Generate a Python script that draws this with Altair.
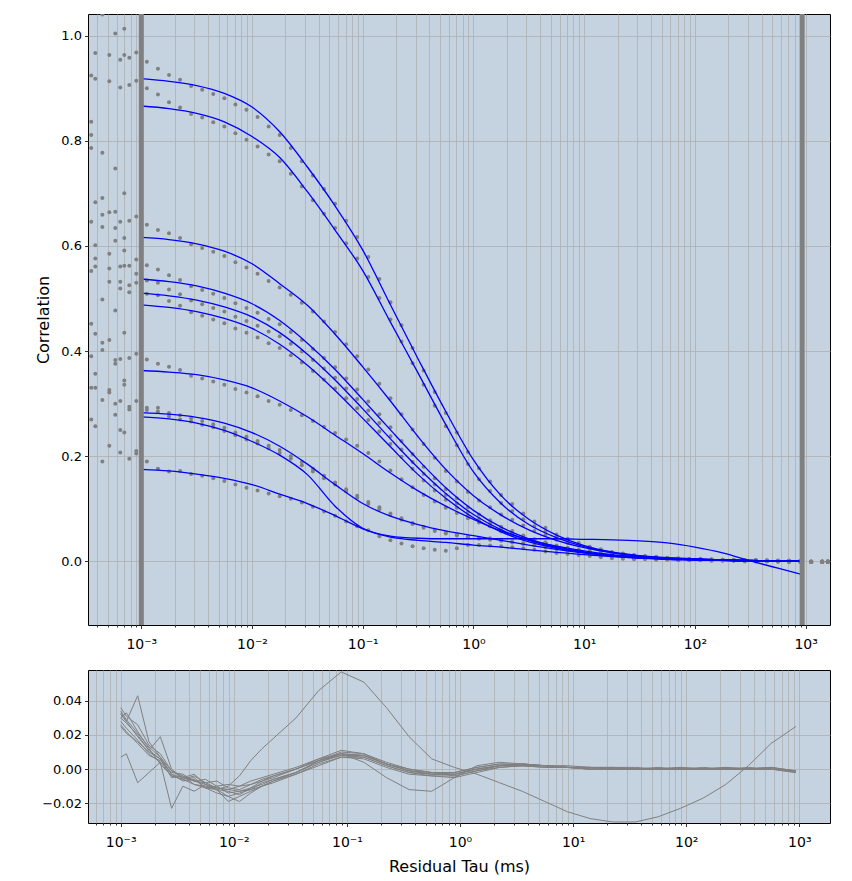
import altair as alt
import pandas as pd

# ---------------- tau values (ms) ----------------
PRE_TAU = [3.53e-4, 3.84e-4, 4.45e-4, 5.14e-4, 5.82e-4, 6.46e-4, 7.02e-4, 7.79e-4, 9.01e-4]
DOT_TAU = [0.001122, 0.001413, 0.001778, 0.002239, 0.002818, 0.003548, 0.004467, 0.005623, 0.007079, 0.008913,
           0.01122, 0.01413, 0.01778, 0.02239, 0.02818, 0.03548, 0.04467, 0.05623, 0.07079, 0.08913,
           0.1122, 0.1413, 0.1778, 0.2239, 0.2818, 0.3548, 0.4467, 0.5623, 0.7079, 0.8913,
           1.122, 1.413, 1.778, 2.239, 2.818, 3.548, 4.467, 5.623, 7.079, 8.913,
           11.22, 14.13, 17.78, 22.39, 28.18, 35.48, 44.67, 56.23, 70.79, 89.13,
           112.2, 141.3, 177.8, 223.9, 281.8, 354.8, 446.7, 562.3, 707.9, 891.3,
           1122.0, 1413.0, 1585.0]
FIT_TAU = [0.001, 0.001778, 0.003162, 0.005623, 0.01, 0.01778, 0.03162, 0.05623, 0.1, 0.1778,
           0.3162, 0.5623, 1.0, 1.778, 3.162, 5.623, 10.0, 17.78, 31.62, 56.23,
           100.0, 177.8, 316.2, 562.3, 930.0]
RES_TAU = [0.001, 0.001122, 0.001413, 0.001778, 0.002239, 0.002818, 0.003548, 0.004467, 0.005623, 0.007079,
           0.008913, 0.01122, 0.01413, 0.01778, 0.02239, 0.03548, 0.05623, 0.08913, 0.1413, 0.2239,
           0.3548, 0.5623, 0.8913, 1.413, 2.239, 3.548, 5.623, 8.913, 14.13, 22.39,
           35.48, 56.23, 89.13, 141.3, 223.9, 354.8, 562.3, 933.0]
FIT_RANGE = [0.001, 930.0]

# ---------------- noisy early points (before fit range) ----------------
PRE_1 = [0.924, 0.967, 1.040, 0.963, 1.004, 0.954, 1.013, 0.958, 0.968]
PRE_2 = [0.836, 0.918, 0.777, 0.913, 0.747, 0.901, 0.963, 0.906, 0.914]
PRE_3 = [0.811, 0.683, 0.691, 0.664, 0.665, 0.646, 0.700, 0.648, 0.656]
PRE_4 = [0.786, 0.601, 0.659, 0.585, 0.634, 0.561, 0.615, 0.562, 0.574]
PRE_5 = [0.646, 0.576, 0.636, 0.557, 0.610, 0.532, 0.591, 0.525, 0.547]
PRE_6 = [0.552, 0.561, 0.498, 0.532, 0.477, 0.519, 0.562, 0.512, 0.530]
PRE_7 = [0.452, 0.433, 0.416, 0.421, 0.383, 0.385, 0.435, 0.387, 0.395]
PRE_8 = [0.390, 0.357, 0.402, 0.326, 0.376, 0.305, 0.344, 0.294, 0.305]
PRE_9 = [0.330, 0.330, 0.307, 0.321, 0.279, 0.250, 0.336, 0.289, 0.205]
PRE_10 = [0.270, 0.257, 0.190, 0.220, 0.300, 0.207, 0.245, 0.195, 0.210]

# ---------------- measured correlation points ----------------
DOT_1 = [0.950, 0.937, 0.925, 0.916, 0.904, 0.897, 0.889, 0.881, 0.869, 0.859,
         0.845, 0.827, 0.811, 0.786, 0.761, 0.734, 0.708, 0.680, 0.648, 0.617,
         0.579, 0.537, 0.493, 0.449, 0.406, 0.363, 0.322, 0.282, 0.245, 0.208,
         0.177, 0.152, 0.126, 0.109, 0.091, 0.076, 0.064, 0.051, 0.043, 0.035,
         0.028, 0.023, 0.018, 0.015, 0.012, 0.010, 0.009, 0.007, 0.006, 0.005,
         0.005, 0.004, 0.003, 0.003, 0.002, 0.002, 0.002, 0.001, 0.001, 0.001,
         0.000, -0.001, 0.000]
DOT_2 = [0.900, 0.888, 0.873, 0.863, 0.851, 0.844, 0.835, 0.827, 0.814, 0.802,
         0.789, 0.774, 0.761, 0.737, 0.713, 0.687, 0.661, 0.634, 0.605, 0.576,
         0.541, 0.501, 0.460, 0.418, 0.377, 0.336, 0.296, 0.257, 0.221, 0.185,
         0.156, 0.134, 0.111, 0.096, 0.080, 0.067, 0.057, 0.046, 0.039, 0.032,
         0.026, 0.021, 0.017, 0.014, 0.011, 0.009, 0.008, 0.006, 0.005, 0.004,
         0.004, 0.003, 0.003, 0.002, 0.002, 0.002, 0.001, 0.001, 0.001, 0.000,
         -0.001, 0.000, -0.001]
DOT_3 = [0.640, 0.630, 0.624, 0.615, 0.603, 0.596, 0.589, 0.581, 0.569, 0.559,
         0.547, 0.533, 0.521, 0.507, 0.492, 0.475, 0.456, 0.436, 0.413, 0.390,
         0.365, 0.338, 0.310, 0.280, 0.251, 0.223, 0.197, 0.172, 0.152, 0.132,
         0.116, 0.103, 0.089, 0.079, 0.068, 0.058, 0.050, 0.041, 0.035, 0.030,
         0.024, 0.020, 0.016, 0.013, 0.011, 0.009, 0.007, 0.006, 0.005, 0.004,
         0.004, 0.003, 0.003, 0.002, 0.002, 0.002, 0.001, 0.001, 0.001, 0.000,
         0.000, -0.001, 0.000]
DOT_4 = [0.563, 0.555, 0.544, 0.535, 0.523, 0.516, 0.509, 0.501, 0.491, 0.482,
         0.473, 0.461, 0.451, 0.436, 0.421, 0.404, 0.387, 0.369, 0.348, 0.327,
         0.304, 0.280, 0.255, 0.229, 0.204, 0.180, 0.158, 0.137, 0.120, 0.103,
         0.089, 0.078, 0.066, 0.058, 0.049, 0.042, 0.036, 0.029, 0.025, 0.021,
         0.017, 0.014, 0.011, 0.009, 0.008, 0.007, 0.006, 0.005, 0.004, 0.003,
         0.003, 0.003, 0.002, 0.002, 0.002, 0.001, 0.001, 0.001, 0.001, 0.000,
         0.000, -0.001, 0.000]
DOT_5 = [0.534, 0.530, 0.517, 0.508, 0.496, 0.489, 0.482, 0.475, 0.465, 0.457,
         0.448, 0.437, 0.428, 0.414, 0.399, 0.383, 0.367, 0.349, 0.329, 0.309,
         0.287, 0.263, 0.238, 0.213, 0.189, 0.166, 0.146, 0.126, 0.110, 0.094,
         0.081, 0.072, 0.061, 0.054, 0.046, 0.039, 0.034, 0.027, 0.023, 0.020,
         0.016, 0.013, 0.011, 0.009, 0.008, 0.006, 0.005, 0.004, 0.004, 0.003,
         0.003, 0.002, 0.002, 0.002, 0.001, 0.001, 0.001, 0.001, 0.000, 0.000,
         -0.001, -0.001, 0.000]
DOT_6 = [0.509, 0.506, 0.495, 0.486, 0.474, 0.467, 0.460, 0.453, 0.443, 0.435,
         0.426, 0.415, 0.406, 0.392, 0.378, 0.362, 0.346, 0.329, 0.310, 0.291,
         0.269, 0.247, 0.223, 0.199, 0.176, 0.154, 0.135, 0.117, 0.102, 0.087,
         0.076, 0.067, 0.057, 0.050, 0.043, 0.037, 0.032, 0.026, 0.022, 0.019,
         0.015, 0.012, 0.010, 0.008, 0.007, 0.006, 0.005, 0.004, 0.003, 0.003,
         0.003, 0.002, 0.002, 0.002, 0.001, 0.001, 0.001, 0.000, 0.000, 0.000,
         -0.001, 0.000, -0.001]
DOT_7 = [0.384, 0.376, 0.370, 0.364, 0.353, 0.348, 0.342, 0.336, 0.328, 0.321,
         0.314, 0.305, 0.298, 0.288, 0.278, 0.267, 0.256, 0.244, 0.232, 0.220,
         0.206, 0.190, 0.173, 0.156, 0.141, 0.126, 0.114, 0.102, 0.092, 0.082,
         0.074, 0.067, 0.059, 0.053, 0.046, 0.041, 0.036, 0.030, 0.026, 0.022,
         0.019, 0.016, 0.013, 0.011, 0.010, 0.008, 0.007, 0.006, 0.005, 0.004,
         0.004, 0.003, 0.003, 0.002, 0.002, 0.001, 0.001, 0.001, 0.000, 0.000,
         -0.001, 0.000, -0.001]
DOT_8 = [0.292, 0.292, 0.282, 0.278, 0.272, 0.267, 0.261, 0.254, 0.245, 0.237,
         0.229, 0.220, 0.212, 0.200, 0.189, 0.176, 0.163, 0.150, 0.137, 0.125,
         0.113, 0.103, 0.091, 0.082, 0.073, 0.066, 0.060, 0.055, 0.051, 0.048,
         0.045, 0.044, 0.041, 0.038, 0.035, 0.031, 0.028, 0.024, 0.021, 0.018,
         0.015, 0.013, 0.011, 0.009, 0.008, 0.006, 0.005, 0.005, 0.004, 0.003,
         0.003, 0.002, 0.002, 0.002, 0.001, 0.001, 0.001, 0.000, 0.000, 0.000,
         -0.001, -0.001, 0.000]
DOT_9 = [0.288, 0.285, 0.276, 0.270, 0.266, 0.260, 0.255, 0.248, 0.240, 0.232,
         0.224, 0.215, 0.206, 0.195, 0.183, 0.171, 0.158, 0.146, 0.133, 0.121,
         0.109, 0.099, 0.088, 0.079, 0.071, 0.064, 0.058, 0.053, 0.049, 0.046,
         0.043, 0.041, 0.039, 0.036, 0.033, 0.030, 0.027, 0.024, 0.021, 0.018,
         0.015, 0.013, 0.011, 0.009, 0.008, 0.007, 0.006, 0.005, 0.004, 0.004,
         0.003, 0.003, 0.002, 0.002, 0.001, 0.001, 0.001, 0.000, 0.000, 0.000,
         -0.001, 0.000, -0.001]
DOT_10 = [0.190, 0.176, 0.171, 0.172, 0.166, 0.163, 0.158, 0.153, 0.146, 0.140,
          0.135, 0.129, 0.124, 0.119, 0.112, 0.104, 0.095, 0.087, 0.076, 0.067,
          0.059, 0.048, 0.040, 0.034, 0.029, 0.025, 0.022, 0.020, 0.025, 0.031,
          0.031, 0.030, 0.029, 0.027, 0.025, 0.022, 0.019, 0.016, 0.014, 0.012,
          0.010, 0.008, 0.006, 0.005, 0.004, 0.004, 0.003, 0.003, 0.002, 0.002,
          0.002, 0.001, 0.001, 0.001, 0.000, 0.000, 0.000, 0.000, -0.001, 0.000,
          -0.001, -0.001, 0.000]

# ---------------- fitted curves ----------------
FIT_1 = [0.918, 0.913, 0.905, 0.890, 0.864, 0.817, 0.750, 0.676, 0.592, 0.488, 0.385, 0.285, 0.193,
         0.125, 0.080, 0.050, 0.030, 0.018, 0.011, 0.007, 0.005, 0.003, 0.002, 0.001, 0.001]
FIT_2 = [0.866, 0.861, 0.852, 0.836, 0.808, 0.768, 0.703, 0.630, 0.553, 0.455, 0.358, 0.260, 0.170,
         0.110, 0.070, 0.045, 0.028, 0.017, 0.010, 0.006, 0.004, 0.003, 0.002, 0.001, 0.001]
FIT_3 = [0.616, 0.612, 0.604, 0.590, 0.566, 0.528, 0.487, 0.432, 0.370, 0.305, 0.237, 0.175, 0.125,
         0.088, 0.060, 0.040, 0.026, 0.016, 0.010, 0.006, 0.004, 0.003, 0.002, 0.001, 0.001]
FIT_4 = [0.537, 0.532, 0.524, 0.510, 0.490, 0.458, 0.415, 0.365, 0.308, 0.250, 0.193, 0.140, 0.097,
         0.065, 0.043, 0.028, 0.018, 0.011, 0.007, 0.005, 0.003, 0.002, 0.001, 0.001, 0.001]
FIT_5 = [0.510, 0.505, 0.497, 0.484, 0.465, 0.435, 0.394, 0.345, 0.290, 0.233, 0.178, 0.129, 0.089,
         0.060, 0.040, 0.026, 0.017, 0.011, 0.007, 0.004, 0.003, 0.002, 0.001, 0.001, 0.001]
FIT_6 = [0.488, 0.483, 0.475, 0.462, 0.443, 0.413, 0.373, 0.325, 0.272, 0.218, 0.165, 0.120, 0.083,
         0.056, 0.037, 0.025, 0.016, 0.010, 0.006, 0.004, 0.003, 0.002, 0.001, 0.001, 0.001]
FIT_7 = [0.363, 0.360, 0.355, 0.345, 0.330, 0.305, 0.275, 0.240, 0.205, 0.168, 0.134, 0.105, 0.080,
         0.058, 0.041, 0.029, 0.020, 0.013, 0.009, 0.006, 0.004, 0.003, 0.002, 0.001, 0.001]
FIT_8 = [0.283, 0.280, 0.274, 0.263, 0.245, 0.219, 0.185, 0.146, 0.110, 0.086, 0.070, 0.058, 0.049,
         0.040, 0.031, 0.023, 0.016, 0.011, 0.007, 0.005, 0.003, 0.002, 0.001, 0.001, 0.001]
FIT_9 = [0.275, 0.271, 0.263, 0.249, 0.228, 0.202, 0.165, 0.105, 0.063, 0.048, 0.044, 0.043, 0.043,
         0.043, 0.043, 0.043, 0.042, 0.041, 0.039, 0.035, 0.027, 0.016, 0.001, -0.013, -0.025]
FIT_10 = [0.175, 0.172, 0.166, 0.158, 0.146, 0.128, 0.110, 0.087, 0.062, 0.046, 0.040, 0.036, 0.031,
          0.027, 0.022, 0.017, 0.013, 0.009, 0.006, 0.004, 0.003, 0.002, 0.001, 0.001, 0.001]

# ---------------- residuals ----------------
RES_1 = [0.036, 0.031, 0.026, 0.014, 0.009, -0.001, -0.005, -0.003, -0.009, -0.012, -0.013, -0.015, -0.011,
         -0.009, -0.006, -0.002, 0.004, 0.009, 0.008, 0.003, -0.001, -0.003, -0.003, 0.000, 0.002, 0.003,
         0.002, 0.001, 0.001, 0.001, 0.000, 0.000, 0.001, 0.000, 0.000, 0.001, 0.000, -0.001]
RES_2 = [0.033, 0.028, 0.043, 0.016, 0.007, -0.003, -0.007, -0.006, -0.011, -0.010, -0.014, -0.013, -0.012,
         -0.008, -0.006, -0.002, 0.005, 0.010, 0.009, 0.004, 0.000, -0.002, -0.004, -0.001, 0.002, 0.003,
         0.002, 0.001, 0.000, 0.000, 0.000, 0.001, 0.000, 0.000, 0.001, 0.000, 0.000, -0.002]
RES_3 = [0.030, 0.027, 0.020, 0.011, 0.019, 0.000, -0.006, -0.004, -0.008, -0.007, -0.011, -0.012, -0.009,
         -0.007, -0.004, 0.000, 0.005, 0.008, 0.007, 0.002, -0.002, -0.003, -0.002, 0.001, 0.003, 0.002,
         0.002, 0.001, 0.001, 0.000, 0.000, 0.000, 0.000, 0.001, 0.000, 0.000, 0.001, -0.001]
RES_4 = [0.028, 0.024, 0.017, 0.009, 0.004, -0.004, -0.006, -0.005, -0.011, -0.012, -0.016, -0.014, -0.012,
         -0.010, -0.007, -0.003, 0.002, 0.007, 0.006, 0.001, -0.003, -0.004, -0.004, -0.001, 0.001, 0.002,
         0.002, 0.001, 0.000, 0.000, 0.000, 0.000, 0.000, 0.000, 0.000, 0.000, 0.001, -0.002]
RES_5 = [0.032, 0.028, 0.019, 0.011, 0.006, -0.005, -0.004, -0.009, -0.011, -0.014, -0.016, -0.019, -0.014,
         -0.010, -0.008, -0.003, 0.003, 0.007, 0.007, 0.002, -0.002, -0.004, -0.005, -0.002, 0.001, 0.002,
         0.001, 0.001, 0.000, 0.001, 0.000, 0.000, 0.000, 0.000, 0.000, 0.000, 0.000, -0.001]
RES_6 = [0.026, 0.022, 0.015, 0.008, 0.005, -0.002, -0.003, -0.007, -0.006, -0.010, -0.009, -0.010, -0.007,
         -0.005, -0.003, 0.001, 0.006, 0.011, 0.009, 0.003, 0.000, -0.002, -0.002, 0.001, 0.003, 0.003,
         0.002, 0.002, 0.001, 0.001, 0.001, 0.000, 0.000, 0.000, 0.001, 0.000, 0.000, -0.001]
RES_7 = [0.007, 0.009, -0.008, -0.002, 0.004, -0.023, -0.010, -0.013, -0.009, -0.012, -0.019, -0.016, -0.013,
         -0.010, -0.007, -0.002, 0.004, 0.008, 0.008, 0.003, -0.001, -0.003, -0.003, 0.000, 0.002, 0.002,
         0.001, 0.001, 0.000, 0.000, 0.000, 0.000, 0.000, 0.000, 0.000, 0.000, 0.000, -0.002]
RES_8 = [0.034, 0.029, 0.021, 0.013, 0.007, -0.001, -0.004, -0.007, -0.008, -0.011, -0.012, -0.010, -0.009,
         -0.006, -0.004, 0.000, 0.005, 0.009, 0.008, 0.003, -0.001, -0.002, -0.003, 0.000, 0.002, 0.002,
         0.002, 0.001, 0.001, 0.000, 0.000, 0.000, 0.001, 0.000, 0.000, 0.000, 0.001, -0.001]
RES_9 = [0.030, 0.033, 0.022, 0.012, 0.003, -0.004, -0.006, -0.009, -0.010, -0.012, -0.010, -0.004, 0.005,
         0.012, 0.018, 0.030, 0.046, 0.057, 0.051, 0.036, 0.019, 0.006, 0.001, -0.003, -0.008, -0.013,
         -0.019, -0.025, -0.029, -0.031, -0.031, -0.028, -0.023, -0.017, -0.009, 0.002, 0.015, 0.025]
RES_10 = [0.025, 0.021, 0.016, 0.010, 0.006, -0.003, -0.005, -0.007, -0.009, -0.011, -0.012, -0.013, -0.011,
          -0.007, -0.005, 0.000, 0.006, 0.009, 0.004, -0.005, -0.012, -0.013, -0.005, 0.002, 0.004, 0.003,
          0.002, 0.001, 0.001, 0.000, 0.000, 0.000, 0.000, 0.000, 0.000, 0.000, 0.000, -0.001]

# ---------------- axis ticks ----------------
TOP_TICKS = [4e-4, 5e-4, 6e-4, 7e-4, 8e-4, 9e-4,
             1e-3, 2e-3, 3e-3, 4e-3, 5e-3, 6e-3, 7e-3, 8e-3, 9e-3,
             1e-2, 2e-2, 3e-2, 4e-2, 5e-2, 6e-2, 7e-2, 8e-2, 9e-2,
             0.1, 0.2, 0.3, 0.4, 0.5, 0.6, 0.7, 0.8, 0.9,
             1, 2, 3, 4, 5, 6, 7, 8, 9,
             10, 20, 30, 40, 50, 60, 70, 80, 90,
             100, 200, 300, 400, 500, 600, 700, 800, 900, 1000]
BOT_TICKS = [6e-4, 7e-4, 8e-4, 9e-4,
             1e-3, 2e-3, 3e-3, 4e-3, 5e-3, 6e-3, 7e-3, 8e-3, 9e-3,
             1e-2, 2e-2, 3e-2, 4e-2, 5e-2, 6e-2, 7e-2, 8e-2, 9e-2,
             0.1, 0.2, 0.3, 0.4, 0.5, 0.6, 0.7, 0.8, 0.9,
             1, 2, 3, 4, 5, 6, 7, 8, 9,
             10, 20, 30, 40, 50, 60, 70, 80, 90,
             100, 200, 300, 400, 500, 600, 700, 800, 900, 1000]
TOP_Y_TICKS = [0.0, 0.2, 0.4, 0.6, 0.8, 1.0]
BOT_Y_TICKS = [-0.02, 0.0, 0.02, 0.04]

PRES = [PRE_1, PRE_2, PRE_3, PRE_4, PRE_5, PRE_6, PRE_7, PRE_8, PRE_9, PRE_10]
DOTS = [DOT_1, DOT_2, DOT_3, DOT_4, DOT_5, DOT_6, DOT_7, DOT_8, DOT_9, DOT_10]
FITS = [FIT_1, FIT_2, FIT_3, FIT_4, FIT_5, FIT_6, FIT_7, FIT_8, FIT_9, FIT_10]
RESS = [RES_1, RES_2, RES_3, RES_4, RES_5, RES_6, RES_7, RES_8, RES_9, RES_10]

dot_rows, fit_rows, res_rows = [], [], []
for i in range(10):
    for t, v in zip(PRE_TAU + DOT_TAU, PRES[i] + DOTS[i]):
        dot_rows.append({"curve": i + 1, "tau": t, "g": v})
    for t, v in zip(FIT_TAU, FITS[i]):
        fit_rows.append({"curve": i + 1, "tau": t, "g": v})
    for t, v in zip(RES_TAU, RESS[i]):
        res_rows.append({"curve": i + 1, "tau": t, "r": v})
dots_df = pd.DataFrame(dot_rows)
fit_df = pd.DataFrame(fit_rows)
res_df = pd.DataFrame(res_rows)
range_df = pd.DataFrame({"tau": FIT_RANGE})

EXP = "round(log(datum.value)/LN10)"
IS_MAJOR = f"abs(log(datum.value)/LN10 - {EXP}) < 0.001"
LOG_LABEL = (f"{IS_MAJOR} ? ('10' + ({EXP} < 0 ? '\u207b' : '') + "
             f"['\u2070','\u00b9','\u00b2','\u00b3','\u2074'][abs({EXP})]) : ''")

FONT = "DejaVu Sans"


def x_axis(values, title=None):
    return alt.Axis(values=values, grid=True, labelExpr=LOG_LABEL, labelOverlap=False,
                    labelFlush=False, tickSize={"condition": {"test": IS_MAJOR, "value": 3.5}, "value": 2},
                    labelPadding=9, labelFontSize=14, title=title, titlePadding=9)


x_top = alt.X("tau:Q", scale=alt.Scale(type="log", domain=[3.3e-4, 1660], nice=False),
              axis=x_axis(TOP_TICKS))
y_top = alt.Y("g:Q", scale=alt.Scale(domain=[-0.121, 1.041], nice=False, zero=False),
              axis=alt.Axis(values=TOP_Y_TICKS, format=".1f", grid=True, tickSize=3.5,
                            labelPadding=3, title="Correlation", titlePadding=9))

points = alt.Chart(dots_df).mark_circle(size=16, color="#808080", opacity=1, clip=True).encode(
    x=x_top, y=y_top)
fits = alt.Chart(fit_df).mark_line(color="#0000ff", strokeWidth=1.3, interpolate="monotone",
                                   clip=True).encode(x="tau:Q", y="g:Q", detail="curve:N")
bounds = alt.Chart(range_df).mark_rule(color="#808080", strokeWidth=5).encode(x="tau:Q")

top = alt.layer(points, fits, bounds).properties(width=742, height=611)

x_bot = alt.X("tau:Q", scale=alt.Scale(type="log", domain=[5.14e-4, 1868], nice=False),
              axis=x_axis(BOT_TICKS, "Residual Tau (ms)"))
y_bot = alt.Y("r:Q", scale=alt.Scale(domain=[-0.0316, 0.0581], nice=False, zero=False),
              axis=alt.Axis(values=BOT_Y_TICKS, grid=True, tickSize=3.5, labelPadding=3,
                            labelExpr="replace(format(datum.value, '.2f'), '-', '\u2212')",
                            title=None))
bottom = alt.Chart(res_df).mark_line(color="#808080", strokeWidth=1, clip=True).encode(
    x=x_bot, y=y_bot, detail="curve:N").properties(width=742, height=153)

chart = alt.vconcat(top, bottom, spacing=17).properties(
    padding={"left": 35, "top": 11, "right": 5, "bottom": 5},
    background="white",
).configure_view(
    stroke="black", strokeWidth=1, fill="#c5d3e0"
).configure_axis(
    labelFont=FONT, labelFontSize=13, labelColor="black",
    titleFont=FONT, titleFontSize=16, titleFontWeight="normal", titleColor="black",
    tickColor="black", tickWidth=0.8, domain=False,
    gridColor="#b0b0b0", gridWidth=0.8,
)

chart.save("out.html", embed_options={"renderer": "svg", "actions": False})
